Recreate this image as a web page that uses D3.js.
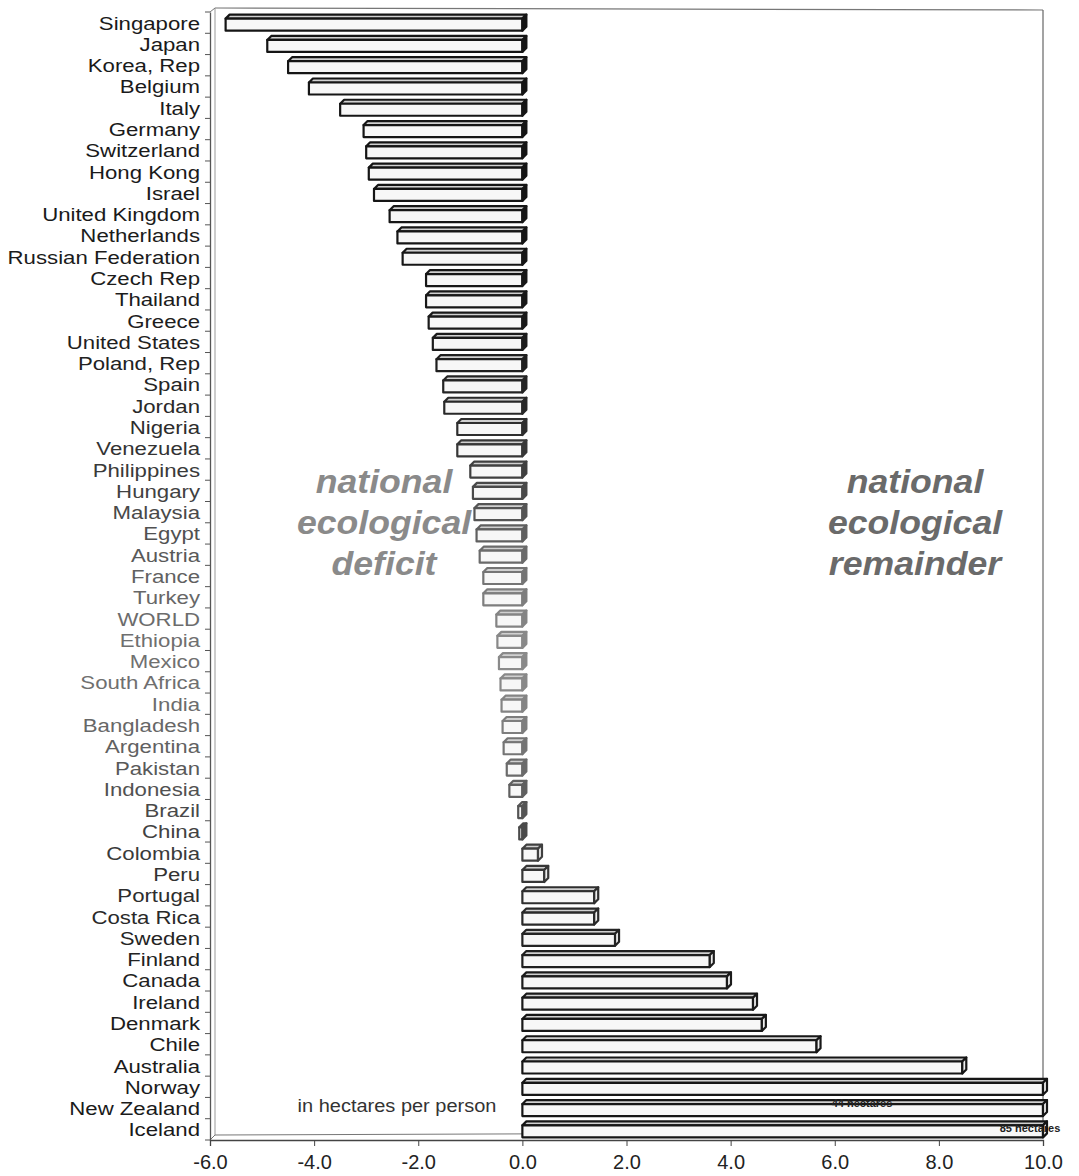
<!DOCTYPE html>
<html><head><meta charset="utf-8">
<script src="https://cdn.jsdelivr.net/npm/d3@7"></script>
<style>body{margin:0;background:#fff}svg{display:block}</style>
</head><body>
<script>
const countries = ["Singapore","Japan","Korea, Rep","Belgium","Italy","Germany","Switzerland","Hong Kong","Israel","United Kingdom","Netherlands","Russian Federation","Czech Rep","Thailand","Greece","United States","Poland, Rep","Spain","Jordan","Nigeria","Venezuela","Philippines","Hungary","Malaysia","Egypt","Austria","France","Turkey","WORLD","Ethiopia","Mexico","South Africa","India","Bangladesh","Argentina","Pakistan","Indonesia","Brazil","China","Colombia","Peru","Portugal","Costa Rica","Sweden","Finland","Canada","Ireland","Denmark","Chile","Australia","Norway","New Zealand","Iceland"];
const values = [-5.7,-4.9,-4.5,-4.1,-3.5,-3.05,-3.0,-2.95,-2.85,-2.55,-2.4,-2.3,-1.85,-1.85,-1.8,-1.72,-1.65,-1.52,-1.5,-1.25,-1.25,-1.0,-0.95,-0.92,-0.88,-0.82,-0.75,-0.75,-0.5,-0.48,-0.45,-0.42,-0.4,-0.38,-0.36,-0.3,-0.25,-0.08,-0.06,0.3,0.42,1.38,1.38,1.78,3.6,3.93,4.43,4.6,5.65,8.45,10.0,44,85];
const xTicks = [-6,-4,-2,0,2,4,6,8,10];
const overflowLabels = [{country:"New Zealand", text:"44 hectares"},{country:"Iceland", text:"85 hectares"}];
const deficitText = ["national","ecological","deficit"];
const remainderText = ["national","ecological","remainder"];
const unitText = "in hectares per person";

const W = 1079, H = 1176;
const FONT = "'Liberation Sans', Arial, sans-serif";
const svg = d3.select("body").append("svg").attr("width",W).attr("height",H)
  .style("font-family",FONT);

const x = d3.scaleLinear().domain([-6,10]).range([210,1043]).clamp(true);
const y = d3.scaleBand().domain(countries).range([12,1140]).padding(0);
const d = 4;
const fade = i => Math.exp(-Math.pow((i-30)/9,2));
const ink = i => d3.interpolateRgb("#151515","#8a8a8a")(fade(i));
const labelInk = i => d3.interpolateRgb("#1a1a1a","#707070")(fade(i));

// frame
const fr = svg.append("g").attr("fill","none");
fr.append("line").attr("x1",215).attr("y1",8).attr("x2",1043).attr("y2",10).attr("stroke","#777").attr("stroke-width",1.2);
fr.append("line").attr("x1",1043).attr("y1",10).attr("x2",1043).attr("y2",1132).attr("stroke","#666").attr("stroke-width",1.2);
fr.append("line").attr("x1",215).attr("y1",8).attr("x2",215).attr("y2",1135).attr("stroke","#999").attr("stroke-width",1);
fr.append("line").attr("x1",210).attr("y1",12).attr("x2",215).attr("y2",8).attr("stroke","#777");
fr.append("line").attr("x1",215).attr("y1",1135).attr("x2",1043).attr("y2",1132).attr("stroke","#777").attr("stroke-width",1);
fr.append("line").attr("x1",210).attr("y1",1140).attr("x2",215).attr("y2",1135).attr("stroke","#777");

// y axis
const yAxis = d3.axisLeft(y).tickSize(0).tickFormat("").tickSizeOuter(0);
const ya = svg.append("g").attr("transform","translate(210,0)").call(yAxis);
ya.select(".domain").attr("stroke","#555").attr("stroke-width",1.3);
svg.append("g").selectAll("line").data(countries.concat(["_end"])).join("line")
  .attr("x1",205).attr("x2",210)
  .attr("y1",(c,i)=>y.range()[0]+i*y.step()).attr("y2",(c,i)=>y.range()[0]+i*y.step())
  .attr("stroke","#555");
svg.append("g").selectAll("text").data(countries).join("text")
  .attr("transform",c=>`translate(200,${y(c)+y.bandwidth()/2+7}) scale(1.2,1)`)
  .attr("text-anchor","end").attr("font-size",18.5)
  .attr("fill",(c,i)=>labelInk(i)).text(c=>c);

// x axis
const fmt = v => d3.format(".1f")(v).replace("\u2212","-");
const xAxis = d3.axisBottom(x).tickValues(xTicks).tickFormat(fmt).tickSize(6).tickPadding(9);
const xa = svg.append("g").attr("transform","translate(0,1140)").call(xAxis);
xa.select(".domain").attr("stroke","#444").attr("stroke-width",1.3);
xa.selectAll(".tick line").attr("stroke","#444");
xa.selectAll(".tick text").attr("font-size",20).attr("fill","#222").attr("font-family",FONT);

// bars
const bars = svg.append("g");
countries.forEach((c,i)=>{
  const v = values[i];
  const yc = y(c)+y.bandwidth()/2;
  const yt = yc-4, yb = yc+8;
  const xa0 = Math.min(x(0),x(v)), xa1 = Math.max(x(0),x(v));
  const col = ink(i);
  const g = bars.append("g").attr("stroke",col).attr("stroke-width",2.2).attr("stroke-linejoin","round");
  g.append("polygon").attr("points",[[xa0,yt],[xa0+d,yt-d],[xa1+d,yt-d],[xa1,yt]].join(" "))
    .attr("fill","#d0d0d0");
  g.append("rect").attr("x",xa0).attr("y",yt).attr("width",xa1-xa0).attr("height",yb-yt)
    .attr("fill","#f7f7f7");
  g.append("polygon").attr("points",[[xa1,yt],[xa1+d,yt-d],[xa1+d,yb-d],[xa1,yb]].join(" "))
    .attr("fill", v<0 ? col : "#eee");
});

// overflow labels
svg.append("g").selectAll("text").data(overflowLabels).join("text")
  .attr("x",(o,i)=> i===0 ? 862 : 1030)
  .attr("y",o=>y(o.country)+y.bandwidth()/2+(o.country==="Iceland"?3:-1))
  .attr("text-anchor","middle").attr("font-size",11).attr("font-weight","bold").attr("fill","#222")
  .text(o=>o.text);

// annotations
const ann = (lines,cx,col)=>svg.append("g").selectAll("text").data(lines).join("text")
  .attr("transform",(t,i)=>`translate(${cx},${493+i*41}) scale(1.08,1)`).attr("text-anchor","middle")
  .attr("font-size",33).attr("font-weight","bold").attr("font-style","italic").attr("fill",col)
  .text(t=>t);
ann(deficitText,384,"#8a8a8a");
ann(remainderText,915,"#6a6a6a");

svg.append("text").attr("transform","translate(397,1112) scale(1.08,1)").attr("text-anchor","middle")
  .attr("font-size",18.5).attr("fill","#333").text(unitText);
</script>
</body></html>
